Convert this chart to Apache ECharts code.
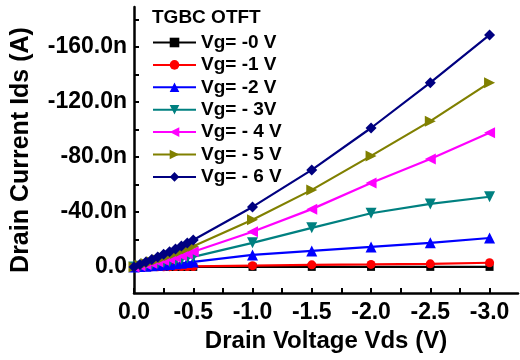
<!DOCTYPE html>
<html>
<head>
<meta charset="utf-8">
<script src="https://cdn.jsdelivr.net/npm/echarts@6/dist/echarts.min.js"></script>
<style>
  html, body { margin: 0; padding: 0; background: #fff; }
  #chart { width: 520px; height: 360px; }
</style>
</head>
<body>
<div id="chart"></div>
<script>
// drain voltage (V)
var vds = [0, -0.05, -0.1, -0.15, -0.2, -0.25, -0.3, -0.35, -0.4, -0.45, -0.5, -1.0, -1.5, -2.0, -2.5, -3.0];

// drain current (nA), one list per gate voltage
var ids0 = [0, 0, 0, 0, 0, 0, 0, 0, 0, 0, 0, 0, 0, 0, 0, 0];
var ids1 = [0, 0, -0.05, -0.05, -0.1, -0.1, -0.15, -0.2, -0.2, -0.25, -0.3, -0.9, -1.5, -1.8, -2.2, -3.0];
var ids2 = [0, -0.2, -0.5, -0.8, -1.1, -1.4, -1.8, -2.2, -2.6, -3.1, -3.6, -8.7, -11.6, -14.5, -17.5, -21.0];
var ids3 = [0, -0.5, -1.1, -1.7, -2.4, -3.1, -3.8, -4.6, -5.5, -6.4, -7.3, -17.5, -28.4, -39.0, -45.8, -51.0];
var ids4 = [0, -0.8, -1.7, -2.7, -3.7, -4.8, -5.9, -7.0, -8.3, -9.6, -11.0, -25.5, -42.0, -61.0, -78.5, -97.5];
var ids5 = [0, -1.2, -2.5, -3.8, -5.2, -6.7, -8.2, -9.8, -11.4, -13.2, -15.0, -34.2, -56.0, -80.7, -106.0, -134.0];
var ids6 = [0, -1.7, -3.5, -5.3, -7.2, -9.1, -11.0, -13.0, -15.1, -17.3, -19.6, -43.6, -70.5, -101.0, -134.0, -168.7];

var seriesNames = ["Vg= -0 V", "Vg= -1 V", "Vg= -2 V", "Vg= - 3V", "Vg= - 4 V", "Vg= - 5 V", "Vg= - 6 V"];

// tick labels
var xLabels = [0, -0.5, -1.0, -1.5, -2.0, -2.5, -3.0];
var xTicks = [0, -0.25, -0.5, -0.75, -1.0, -1.25, -1.5, -1.75, -2.0, -2.25, -2.5, -2.75, -3.0];
var yLabels = [0, -40, -80, -120, -160];
var yTicks = [0, -20, -40, -60, -80, -100, -120, -140, -160, -180];

var allIds = [ids0, ids1, ids2, ids3, ids4, ids5, ids6];
var colors = ["#000000", "#ff0000", "#0000ff", "#008080", "#ff00ff", "#808000", "#000080"];
var symbols = [
  "rect",
  "circle",
  "triangle",
  "path://M0,0 L10,0 L5,9 Z",
  "path://M9,0 L9,10 L0,5 Z",
  "path://M0,0 L9,5 L0,10 Z",
  "diamond"
];
var sizes = [8, 9, 11, 11, 11, 11, 11];

var font = "'Liberation Sans', Arial, sans-serif";

var series = [];
for (var s = 0; s < allIds.length; s++) {
  var pts = [];
  for (var i = 0; i < vds.length; i++) {
    pts.push([vds[i], allIds[s][i]]);
  }
  series.push({
    name: seriesNames[s],
    type: "line",
    data: pts,
    symbol: symbols[s],
    symbolSize: sizes[s],
    showAllSymbol: true,
    color: colors[s],
    lineStyle: { width: 2.2, color: colors[s] },
    itemStyle: { color: colors[s] }
  });
}

var chart = echarts.init(document.getElementById("chart"));
chart.setOption({
  animation: false,
  backgroundColor: "#fff",
  textStyle: { fontFamily: font },
  title: {
    text: "TGBC OTFT",
    left: 152,
    top: 8,
    padding: 0,
    textStyle: { fontFamily: font, fontSize: 19, fontWeight: "bold", color: "#000" }
  },
  legend: {
    orient: "vertical",
    left: 152,
    top: 33,
    padding: 0,
    itemWidth: 43,
    itemHeight: 12,
    itemGap: 3.4,
    selectedMode: false,
    data: seriesNames,
    textStyle: { fontFamily: font, fontSize: 19, fontWeight: "bold", color: "#000", lineHeight: 19 }
  },
  grid: { left: 134, right: 2, top: 7, bottom: 67, containLabel: false },
  xAxis: {
    type: "value",
    inverse: true,
    min: -3.24,
    max: 0,
    name: "Drain Voltage Vds (V)",
    nameLocation: "middle",
    nameGap: 30,
    nameTextStyle: { fontFamily: font, fontSize: 24, fontWeight: "bold", color: "#000" },
    axisLine: { onZero: false, lineStyle: { color: "#000", width: 2.5 } },
    axisTick: { inside: true, length: 5, lineStyle: { color: "#000", width: 2 }, customValues: xTicks },
    axisLabel: {
      customValues: xLabels,
      margin: 8,
      fontFamily: font,
      fontSize: 23,
      fontWeight: "bold",
      color: "#000",
      formatter: function (v) { return v.toFixed(1); }
    },
    splitLine: { show: false }
  },
  yAxis: {
    type: "value",
    inverse: true,
    min: -189,
    max: 19,
    name: "Drain Current Ids (A)",
    nameLocation: "middle",
    nameGap: 100,
    nameTextStyle: { fontFamily: font, fontSize: 25, fontWeight: "bold", color: "#000" },
    axisLine: { onZero: false, lineStyle: { color: "#000", width: 2.5 } },
    axisTick: { inside: true, length: 5, lineStyle: { color: "#000", width: 2 }, customValues: yTicks },
    axisLabel: {
      customValues: yLabels,
      margin: 7,
      fontFamily: font,
      fontSize: 23,
      fontWeight: "bold",
      color: "#000",
      formatter: function (v) { return v === 0 ? "0.0" : v.toFixed(1) + "n"; }
    },
    splitLine: { show: false }
  },
  series: series
});
</script>
</body>
</html>
